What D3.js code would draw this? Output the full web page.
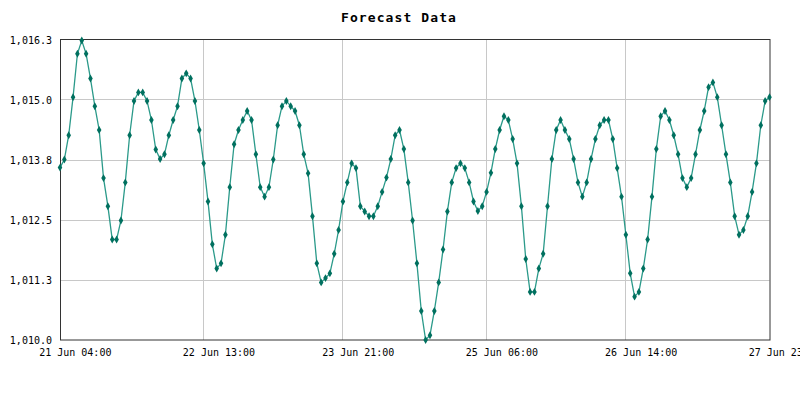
<!DOCTYPE html>
<html><head><meta charset="utf-8">
<script src="https://cdn.jsdelivr.net/npm/d3@7"></script>
<style>
html,body{margin:0;padding:0;background:#fff;}
svg{display:block;}
text{font-family:"DejaVu Sans Mono",monospace;fill:#000;}
</style></head><body>
<svg id="c" width="800" height="400"></svg>
<script>
const title = "Forecast Data";
const startTime = Date.UTC(2024, 5, 21, 4, 0);   // 21 Jun 04:00, hourly readings
const pressure = [
1013.62,1013.79,1014.30,1015.10,1016.01,1016.29,1016.01,1015.49,1014.91,1014.41,
1013.40,1012.81,1012.11,1012.11,1012.51,1013.31,1014.30,1015.02,1015.20,1015.20,
1015.02,1014.62,1014.00,1013.80,1013.90,1014.30,1014.62,1014.91,1015.49,1015.60,
1015.49,1015.02,1014.41,1013.71,1012.91,1012.01,1011.50,1011.61,1012.21,1013.21,
1014.11,1014.41,1014.62,1014.81,1014.62,1013.90,1013.21,1013.01,1013.21,1013.79,
1014.51,1014.91,1015.02,1014.91,1014.81,1014.51,1013.90,1013.50,1012.60,1011.61,
1011.21,1011.30,1011.40,1011.81,1012.31,1012.91,1013.31,1013.71,1013.61,1012.81,
1012.70,1012.60,1012.60,1012.81,1013.11,1013.41,1013.80,1014.30,1014.41,1014.01,
1013.31,1012.51,1011.61,1010.61,1010.00,1010.10,1010.61,1011.21,1011.90,1012.70,
1013.31,1013.61,1013.71,1013.61,1013.31,1012.91,1012.71,1012.81,1013.11,1013.51,
1014.01,1014.41,1014.70,1014.62,1014.22,1013.71,1012.81,1011.70,1011.01,1011.01,
1011.50,1011.81,1012.81,1013.80,1014.41,1014.62,1014.41,1014.22,1013.80,1013.31,
1013.01,1013.31,1013.80,1014.22,1014.51,1014.62,1014.62,1014.22,1013.61,1013.01,
1012.21,1011.40,1010.91,1011.01,1011.50,1012.11,1013.01,1014.01,1014.70,1014.81,
1014.62,1014.30,1013.90,1013.40,1013.21,1013.40,1013.90,1014.41,1014.81,1015.31,
1015.41,1015.10,1014.51,1013.90,1013.31,1012.60,1012.21,1012.31,1012.60,1013.11,
1013.71,1014.51,1015.02,1015.10
];
const yMin = 1010.0, yMax = 1016.3;
const tickCount = 6;

const data = pressure.map((v,i)=>({t:new Date(startTime + i*3600000), v}));

const svg = d3.select("#c");
const L=60, R=769.5, T=40, B=340;
const x = d3.scaleUtc().domain([data[0].t, data[data.length-1].t]).range([L,R]);
const y = d3.scaleLinear().domain([yMin,yMax]).range([B,T]);

const yTicks = d3.range(tickCount).map(k=>yMin + k*(yMax-yMin)/(tickCount-1));
const t0 = +data[0].t, t1 = +data[data.length-1].t;
const xTicks = d3.range(tickCount).map(k=>d3.utcHour.round(new Date(t0 + k*(t1-t0)/(tickCount-1))));
const fmtY = d3.format(",.1f");
const fmtX = d3.utcFormat("%d %b %H:%M");

const crisp = v => Math.floor(v)+0.5;

// grid
svg.append("g").selectAll("line").data(yTicks.slice(1,-1)).join("line")
  .attr("x1",L).attr("x2",R).attr("y1",d=>crisp(y(d))).attr("y2",d=>crisp(y(d)))
  .attr("stroke","#c8c8c8").attr("stroke-width",1);
svg.append("g").selectAll("line").data(xTicks.slice(1,-1)).join("line")
  .attr("y1",T).attr("y2",B).attr("x1",d=>crisp(x(d))).attr("x2",d=>crisp(x(d)))
  .attr("stroke","#c8c8c8").attr("stroke-width",1);

// frame
svg.append("rect").attr("x",60.5).attr("y",39.5).attr("width",709.5).attr("height",300.5)
  .attr("fill","none").attr("stroke","#333").attr("stroke-width",1);

// line
svg.append("path").datum(data)
  .attr("d", d3.line().x(d=>x(d.t)).y(d=>y(d.v)))
  .attr("fill","none").attr("stroke","#2b9a8a").attr("stroke-width",1.3);

// markers
svg.append("g").selectAll("path").data(data).join("path")
  .attr("transform",d=>`translate(${x(d.t)},${y(d.v)})`)
  .attr("d", d3.symbol().type(d3.symbolDiamond).size(18))
  .attr("fill","#00705f");

// y labels
svg.append("g").selectAll("text").data(yTicks).join("text")
  .attr("x",52).attr("y",d=>y(d)).attr("dy","0.35em")
  .attr("text-anchor","end").attr("font-size","10px")
  .text(d=>fmtY(d));

// x labels
svg.append("g").selectAll("text").data(xTicks).join("text")
  .attr("x",d=>x(d)-20.8).attr("y",356)
  .attr("text-anchor","start").attr("font-size","10px")
  .text(d=>fmtX(d));

// title
svg.append("text").attr("x",399).attr("y",22).attr("text-anchor","middle")
  .attr("font-size","13px").attr("font-weight","bold").attr("letter-spacing","1.1px")
  .text(title);
</script>
</body></html>
